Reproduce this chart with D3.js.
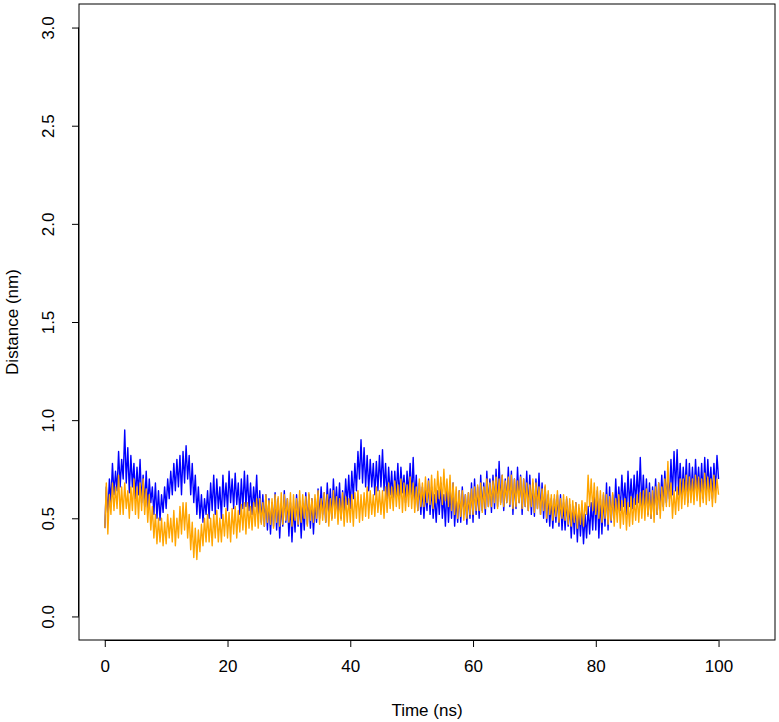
<!DOCTYPE html>
<html><head><meta charset="utf-8">
<script src="https://cdn.jsdelivr.net/npm/d3@7"></script>
<style>body{margin:0;background:#fff}svg{display:block}text{font-family:"Liberation Sans",Arial,sans-serif;font-size:17px;fill:#000}</style>
</head><body>
<script>
const timeStep = 0.25; // ns between samples
const xTicks = [0, 20, 40, 60, 80, 100];
const yTicks = [0, 0.5, 1.0, 1.5, 2.0, 2.5, 3.0];
const yTickLabels = ["0.0","0.5","1.0","1.5","2.0","2.5","3.0"];
const xLabel = "Time (ns)";
const yLabel = "Distance (nm)";

const blueSeries = [
0.45,0.66,0.52,0.70, 0.58,0.78,0.62,0.74, 0.64,0.84,0.66,0.80, 0.70,0.95,0.68,0.86, 0.63,0.82,0.66,0.78,
0.60,0.76,0.62,0.80, 0.58,0.72,0.56,0.74, 0.55,0.70,0.58,0.66, 0.52,0.68,0.50,0.64, 0.49,0.62,0.53,0.66,
0.55,0.70,0.60,0.74, 0.62,0.78,0.64,0.80, 0.66,0.82,0.62,0.84, 0.68,0.87,0.70,0.82, 0.62,0.78,0.58,0.72,
0.52,0.66,0.50,0.62, 0.48,0.60,0.52,0.64, 0.50,0.68,0.54,0.72, 0.52,0.70,0.55,0.66, 0.50,0.72,0.56,0.68,
0.54,0.74,0.58,0.70, 0.55,0.73,0.57,0.68, 0.52,0.70,0.55,0.74, 0.56,0.72,0.54,0.68, 0.52,0.66,0.56,0.72,
0.50,0.64,0.48,0.62, 0.46,0.62,0.44,0.60, 0.42,0.58,0.46,0.63, 0.44,0.60,0.40,0.57, 0.46,0.64,0.48,0.60,
0.41,0.58,0.38,0.56, 0.43,0.62,0.46,0.59, 0.40,0.57,0.44,0.63, 0.47,0.62,0.45,0.60, 0.42,0.58,0.48,0.65,
0.50,0.66,0.52,0.63, 0.48,0.68,0.53,0.65, 0.50,0.70,0.55,0.66, 0.52,0.68,0.50,0.64, 0.54,0.70,0.57,0.72,
0.55,0.74,0.60,0.78, 0.64,0.84,0.70,0.90, 0.68,0.86,0.66,0.82, 0.64,0.80,0.66,0.78, 0.62,0.79,0.64,0.82,
0.66,0.85,0.64,0.78, 0.60,0.76,0.62,0.74, 0.58,0.74,0.62,0.78, 0.60,0.76,0.63,0.72, 0.58,0.74,0.62,0.78,
0.60,0.81,0.58,0.72, 0.54,0.68,0.52,0.66, 0.50,0.64,0.54,0.70, 0.52,0.66,0.50,0.62, 0.48,0.64,0.52,0.68,
0.50,0.62,0.46,0.66, 0.48,0.64,0.50,0.68, 0.46,0.60,0.48,0.64, 0.48,0.66,0.52,0.62, 0.47,0.63,0.50,0.68,
0.48,0.70,0.52,0.66, 0.50,0.72,0.54,0.68, 0.52,0.74,0.56,0.70, 0.53,0.72,0.55,0.75, 0.56,0.79,0.58,0.72,
0.54,0.70,0.58,0.76, 0.56,0.74,0.52,0.70, 0.55,0.76,0.58,0.72, 0.52,0.70,0.56,0.74, 0.54,0.72,0.52,0.68,
0.51,0.70,0.55,0.73, 0.52,0.68,0.50,0.66, 0.48,0.62,0.46,0.60, 0.45,0.60,0.48,0.62, 0.46,0.62,0.44,0.58,
0.44,0.60,0.46,0.57, 0.40,0.56,0.42,0.58, 0.38,0.55,0.41,0.54, 0.37,0.52,0.40,0.56, 0.42,0.58,0.44,0.62,
0.44,0.64,0.40,0.60, 0.42,0.62,0.46,0.68, 0.44,0.66,0.48,0.62, 0.50,0.70,0.52,0.66, 0.54,0.72,0.56,0.68,
0.52,0.74,0.56,0.70, 0.55,0.72,0.57,0.74, 0.58,0.81,0.56,0.72, 0.54,0.70,0.52,0.68, 0.50,0.66,0.54,0.70,
0.52,0.68,0.55,0.72, 0.56,0.74,0.58,0.72, 0.60,0.80,0.62,0.84, 0.64,0.85,0.62,0.78, 0.60,0.76,0.62,0.80,
0.58,0.78,0.62,0.76, 0.60,0.80,0.64,0.76, 0.62,0.78,0.60,0.81, 0.62,0.80,0.64,0.76, 0.60,0.78,0.64,0.82,
0.70];

const orangeSeries = [
0.45,0.68,0.42,0.62, 0.52,0.68,0.54,0.66, 0.55,0.72,0.52,0.66, 0.52,0.68,0.55,0.64, 0.50,0.66,0.54,0.70,
0.52,0.66,0.50,0.68, 0.54,0.70,0.52,0.65, 0.48,0.62,0.44,0.56, 0.40,0.52,0.37,0.50, 0.38,0.50,0.36,0.48,
0.37,0.52,0.40,0.50, 0.38,0.54,0.36,0.50, 0.40,0.56,0.42,0.58, 0.44,0.58,0.40,0.52, 0.34,0.48,0.30,0.45,
0.29,0.44,0.33,0.47, 0.36,0.50,0.38,0.52, 0.38,0.50,0.36,0.52, 0.40,0.54,0.38,0.50, 0.38,0.52,0.41,0.55,
0.40,0.53,0.38,0.55, 0.42,0.56,0.40,0.54, 0.43,0.57,0.44,0.58, 0.42,0.58,0.45,0.56, 0.44,0.58,0.46,0.60,
0.45,0.60,0.47,0.58, 0.46,0.62,0.48,0.59, 0.47,0.60,0.45,0.62, 0.48,0.61,0.46,0.63, 0.47,0.62,0.49,0.60,
0.48,0.63,0.46,0.62, 0.49,0.60,0.47,0.64, 0.48,0.62,0.50,0.61, 0.46,0.63,0.49,0.60, 0.48,0.62,0.50,0.64,
0.47,0.60,0.49,0.63, 0.48,0.62,0.46,0.60, 0.49,0.64,0.50,0.61, 0.47,0.60,0.49,0.63, 0.46,0.61,0.48,0.60,
0.48,0.62,0.46,0.63, 0.50,0.64,0.48,0.62, 0.49,0.63,0.51,0.66, 0.50,0.64,0.52,0.62, 0.51,0.66,0.53,0.64,
0.52,0.64,0.50,0.66, 0.53,0.68,0.55,0.66, 0.54,0.69,0.56,0.67, 0.55,0.70,0.53,0.68, 0.54,0.67,0.56,0.71,
0.55,0.68,0.53,0.66, 0.54,0.70,0.56,0.68, 0.56,0.71,0.58,0.69, 0.57,0.72,0.55,0.70, 0.58,0.74,0.60,0.71,
0.57,0.75,0.59,0.70, 0.56,0.72,0.54,0.68, 0.52,0.66,0.50,0.64, 0.51,0.64,0.49,0.62, 0.50,0.63,0.52,0.65,
0.52,0.66,0.54,0.67, 0.54,0.68,0.53,0.66, 0.55,0.70,0.56,0.68, 0.56,0.69,0.58,0.71, 0.55,0.70,0.57,0.72,
0.56,0.69,0.58,0.71, 0.57,0.72,0.55,0.70, 0.56,0.69,0.58,0.71, 0.55,0.70,0.56,0.68, 0.54,0.67,0.56,0.70,
0.53,0.68,0.55,0.66, 0.52,0.65,0.54,0.67, 0.50,0.64,0.52,0.62, 0.49,0.62,0.51,0.64, 0.48,0.60,0.50,0.62,
0.49,0.61,0.47,0.60, 0.46,0.59,0.48,0.58, 0.45,0.57,0.47,0.59, 0.46,0.58,0.52,0.72, 0.56,0.70,0.54,0.68,
0.52,0.66,0.50,0.64, 0.48,0.63,0.50,0.62, 0.47,0.61,0.49,0.63, 0.46,0.60,0.48,0.62, 0.45,0.59,0.47,0.60,
0.44,0.58,0.46,0.61, 0.47,0.60,0.49,0.62, 0.48,0.63,0.50,0.64, 0.49,0.65,0.51,0.63, 0.50,0.64,0.48,0.66,
0.52,0.68,0.50,0.66, 0.54,0.70,0.56,0.79, 0.56,0.68,0.50,0.64, 0.52,0.66,0.54,0.70, 0.55,0.70,0.57,0.72,
0.56,0.71,0.58,0.70, 0.57,0.72,0.59,0.71, 0.56,0.70,0.58,0.73, 0.57,0.71,0.59,0.70, 0.56,0.72,0.58,0.70,
0.62];

const W = 779, H = 722;
const box = {left: 79, right: 775, top: 4, bottom: 640};
const fontCss = '"Liberation Sans",Arial,sans-serif';

const svg = d3.select("body").append("svg").attr("width", W).attr("height", H);

const x = d3.scaleLinear().domain([-4.2, 109.2]).range([box.left, box.right]);
const y = d3.scaleLinear().domain([-0.12, 3.12]).range([box.bottom, box.top]);

const line = d3.line().x((d, i) => x(i * timeStep)).y(d => y(d));

svg.append("path").datum(blueSeries).attr("d", line)
  .attr("fill", "none").attr("stroke", "#0000FF").attr("stroke-width", 1.4).attr("stroke-linejoin", "round");
svg.append("path").datum(orangeSeries).attr("d", line)
  .attr("fill", "none").attr("stroke", "#FFA500").attr("stroke-width", 1.4).attr("stroke-linejoin", "round");

// box
svg.append("rect").attr("x", box.left).attr("y", box.top)
  .attr("width", box.right - box.left).attr("height", box.bottom - box.top)
  .attr("fill", "none").attr("stroke", "#000").attr("stroke-width", 1);

// x axis
const xAxis = d3.axisBottom(x).tickValues(xTicks).tickSize(7).tickPadding(13).tickFormat(d3.format("d"));
const gx = svg.append("g").attr("transform", `translate(0,${box.bottom})`).call(xAxis);
gx.select(".domain").attr("d", `M${x(0)},0.5H${x(100)}`);
gx.selectAll("text").style("font-size", "17px").style("font-family", fontCss);

// y axis
const yAxis = d3.axisLeft(y).tickValues(yTicks).tickSize(7).tickFormat((d, i) => yTickLabels[i]);
const gy = svg.append("g").attr("transform", `translate(${box.left},0)`).call(yAxis);
gy.select(".domain").attr("d", `M-0.5,${y(0)}V${y(3)}`);
gy.selectAll("text")
  .attr("x", null).attr("dy", null)
  .attr("text-anchor", "middle")
  .attr("transform", "translate(-31,0) rotate(-90)")
  .attr("dominant-baseline", "central")
  .style("font-size", "17px").style("font-family", fontCss);

svg.append("text").attr("x", (box.left + box.right) / 2).attr("y", 710)
  .attr("text-anchor", "middle").attr("dominant-baseline", "central").text(xLabel);
svg.append("text").attr("transform", `translate(12,${(box.top + box.bottom) / 2}) rotate(-90)`)
  .attr("text-anchor", "middle").attr("dominant-baseline", "central").text(yLabel);
</script>
</body></html>
